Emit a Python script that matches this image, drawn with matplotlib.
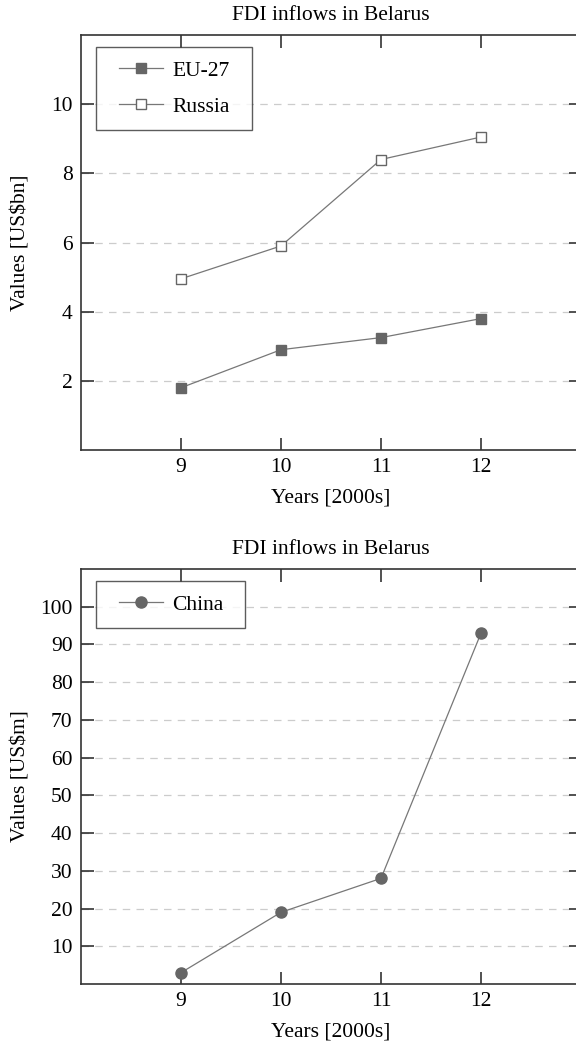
import matplotlib.pyplot as plt
from matplotlib.legend_handler import HandlerLine2D

years = [9, 10, 11, 12]
eu27 = [1.8, 2.9, 3.25, 3.8]
russia = [4.95, 5.9, 8.4, 9.05]
china = [3, 19, 28, 93]

plt.rcParams["font.family"] = ["Liberation Serif", "DejaVu Serif"]
plt.rcParams["font.size"] = 15.5

marker_col = "#666666"
line_col = "#777777"
spine_col = "#333333"
fs = 15.5


def style_axes(ax, ylim, yticks, ylabel):
    ax.set_xlim(8, 13)
    ax.set_ylim(*ylim)
    ax.set_xticks(years)
    ax.set_yticks(yticks)
    ax.tick_params(direction="in", length=9, width=1.2, color=spine_col,
                   top=True, right=True, labelsize=fs, pad=6)
    for s in ax.spines.values():
        s.set_color(spine_col)
        s.set_linewidth(1.2)
    ax.grid(axis="y", linestyle=(0, (6, 5)), color="#cccccc", linewidth=0.9)
    ax.set_axisbelow(True)
    ax.set_title("FDI inflows in Belarus", fontsize=fs, pad=11)
    ax.set_xlabel("Years [2000s]", fontsize=fs, labelpad=8)
    ax.set_ylabel(ylabel, fontsize=fs)
    ax.yaxis.set_label_coords(-0.1, 0.5)


def add_legend(ax, width):
    leg = ax.legend(loc="upper left", mode="expand", fancybox=False,
                    edgecolor=spine_col, handlelength=2.5, handletextpad=0.42,
                    borderpad=0.63, labelspacing=0.75, fontsize=fs,
                    bbox_to_anchor=(0.03, 0.0, width, 0.971), borderaxespad=0,
                    handler_map={plt.Line2D: HandlerLine2D(xpad=0.44)})
    leg.get_frame().set_linewidth(1.0)
    return leg


fig = plt.figure(figsize=(5.76, 10.43), dpi=100)
H = 1043.0
W = 576.0

ax1 = fig.add_axes([81 / W, 1 - 450 / H, 500 / W, (450 - 35) / H])
ax1.plot(years, eu27, color=line_col, linewidth=0.9, marker="s", markersize=7.5,
         markerfacecolor=marker_col, markeredgecolor=marker_col, label="EU-27")
ax1.plot(years, russia, color=line_col, linewidth=0.9, marker="s", markersize=7.5,
         markerfacecolor="white", markeredgecolor=marker_col, label="Russia")
style_axes(ax1, (0, 12), [2, 4, 6, 8, 10], "Values [US$bn]")
add_legend(ax1, 0.312)

ax2 = fig.add_axes([81 / W, 1 - 984 / H, 500 / W, (984 - 569) / H])
ax2.plot(years, china, color=line_col, linewidth=0.9, marker="o", markersize=8,
         markerfacecolor=marker_col, markeredgecolor=marker_col, label="China")
style_axes(ax2, (0, 110), list(range(10, 101, 10)), "Values [US$m]")
add_legend(ax2, 0.298)

fig.savefig("out.png", dpi=100)
